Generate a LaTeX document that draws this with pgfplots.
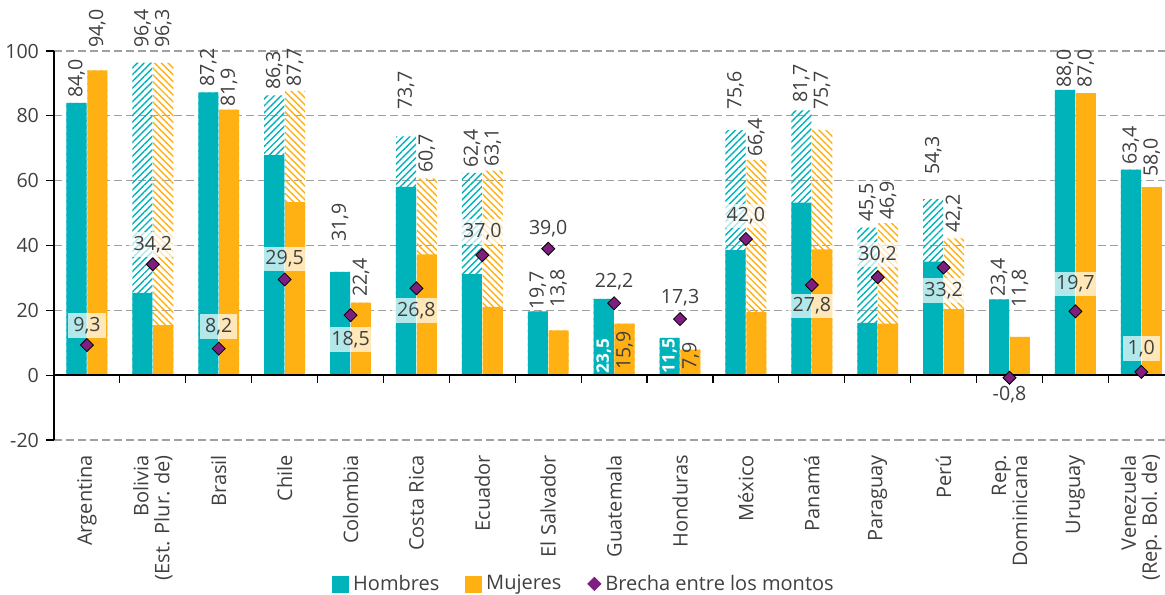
\documentclass[border=0pt]{standalone}
\usepackage{fontspec}
\setmainfont{Open Sans}
\usepackage{pgfplots}
\usepackage{pgfplotstable}
\pgfplotsset{compat=1.18}
\usetikzlibrary{patterns.meta}
\definecolor{teal}{HTML}{00B3BA}
\definecolor{orng}{HTML}{FFB012}
\definecolor{purp}{HTML}{7D1E80}
\definecolor{txt}{HTML}{404040}
\definecolor{gridc}{HTML}{A0A0A0}
\newcommand\num{\fontsize{9.8}{11}\selectfont}
\newcommand\numb{\fontsize{8.6}{10}\selectfont\bfseries}
\newcommand\lbl{\fontsize{10}{10.5}\selectfont}

\pgfplotstableread{
x htot hsol mtot msol br
0 84.0 84.0 94.0 94.0 9.3
1 96.4 25.4 96.3 15.4 34.2
2 87.2 87.2 81.9 81.9 8.2
3 86.3 67.9 87.7 53.4 29.5
4 31.9 31.9 22.4 22.4 18.5
5 73.7 58.1 60.7 37.3 26.8
6 62.4 31.2 63.1 21.1 37.0
7 19.7 19.7 13.8 13.8 39.0
8 23.5 23.5 15.9 15.9 22.2
9 11.5 11.5 7.9 7.9 17.3
10 75.6 38.6 66.4 19.5 42.0
11 81.7 53.2 75.7 38.8 27.8
12 45.5 16.1 46.9 15.9 30.2
13 54.3 35.0 42.2 20.4 33.2
14 23.4 23.4 11.8 11.8 -0.8
15 88.0 88.0 87.0 87.0 19.7
16 63.4 63.4 58.0 58.0 1.0
}\data

\pgfplotstableread{
x y t
0 85.5 84,0
1 100.9 96,4
2 88.9 87,2
3 88.0 86,3
4 41.0 31,9
5 81.8 73,7
6 63.9 62,4
7 20.1 19,7
10 81.8 75,6
11 84.0 81,7
12 47.2 45,5
13 61.7 54,3
14 24.1 23,4
15 88.6 88,0
16 64.8 63,4
}\hlab

\pgfplotstableread{
x y t
8 0.5 23,5
9 0.4 11,5
}\hlabw

\pgfplotstableread{
x y t
0 100.9 94,0
1 100.9 96,3
2 82.7 81,9
3 88.9 87,7
4 24.1 22,4
5 62.3 60,7
6 64.2 63,1
7 20.7 13,8
8 1.5 15,9
9 1.5 7,9
10 67.3 66,4
11 81.8 75,7
12 47.8 46,9
13 43.8 42,2
14 20.7 11,8
15 88.6 87,0
16 61.1 58,0
}\mlab

\pgfplotstableread{
x y t
0 15.3 9,3
1 40.4 34,2
2 15.1 8,2
3 35.8 29,5
4 11.1 18,5
5 20.0 26,8
6 44.4 37,0
7 45.1 39,0
8 28.7 22,2
9 23.8 17,3
10 49.1 42,0
11 21.3 27,8
12 37.3 30,2
13 26.1 33,2
14 -6.0 -0,8
15 28.1 19,7
16 8.2 1,0
}\blab

\begin{document}
\begin{tikzpicture}
\begin{axis}[
  width=555.5pt, height=194.5pt, scale only axis,
  xmin=-0.5, xmax=16.36, ymin=-20, ymax=100,
  clip=false,
  axis y line*=left, axis x line*=bottom,
  x axis line style={draw=none},
  y axis line style={draw=black, line width=0.7pt},
  xtick={0,...,16},
  xticklabels={Argentina,{Bolivia\\(Est. Plur. de)},Brasil,Chile,Colombia,Costa Rica,Ecuador,El Salvador,Guatemala,Honduras,México,Panamá,Paraguay,Perú,{Rep.\\Dominicana},Uruguay,{Venezuela\\(Rep. Bol. de)}},
  xtick style={draw=none},
  xticklabel style={rotate=90, anchor=east, align=right, font=\lbl, text=txt},
  ytick={-20,0,20,40,60,80,100},
  yticklabels={-20,0,20,40,60,80,100},
  ytick style={draw=black, line width=0.6pt},
  tick align=outside, major tick length=4pt,
  yticklabel style={font=\num, text=txt},
  ymajorgrids,
  grid style={dash pattern=on 4pt off 2pt, color=gridc, line width=0.6pt},
  legend columns=3,
  legend style={at={(0.478,-0.370)}, anchor=center, draw=none, fill=none,
    font=\lbl, text=txt,
    /tikz/every even column/.append style={column sep=11pt}},
]
% hatched totals
\addplot[ybar, bar width=0.305, bar shift=-0.158, draw=none,
  pattern={Lines[angle=45,distance=2.4pt,line width=0.7pt]}, pattern color=teal, forget plot]
  table[x=x,y=htot]{\data};
\addplot[ybar, bar width=0.305, bar shift=0.158, draw=none,
  pattern={Lines[angle=-45,distance=2.4pt,line width=0.7pt]}, pattern color=orng, forget plot]
  table[x=x,y=mtot]{\data};
% solid parts
\addplot[ybar, bar width=0.305, bar shift=-0.158, draw=none, fill=teal, forget plot]
  table[x=x,y=hsol]{\data};
\addplot[ybar, bar width=0.305, bar shift=0.158, draw=none, fill=orng, forget plot]
  table[x=x,y=msol]{\data};
% x axis line at zero with category boundary ticks
\draw[black, line width=0.7pt] (axis cs:-0.5,0) -- (axis cs:16.36,0);
\pgfplotsinvokeforeach{0.5,1.5,2.5,3.5,4.5,5.5,6.5,7.5,8.5,9.5,10.5,11.5,12.5,13.5,14.5,15.5}{
  \draw[black, line width=0.6pt] (axis cs:#1,0) -- ++(0pt,-4pt);
}
% bar value labels
\addplot[draw=none, mark=none, nodes near coords, point meta=explicit symbolic,
  nodes near coords style={rotate=90, anchor=west, inner sep=0pt, font=\num, text=txt}, forget plot]
  table[x expr=\thisrow{x}-0.158, y=y, meta=t]{\hlab};
\addplot[draw=none, mark=none, nodes near coords, point meta=explicit symbolic,
  nodes near coords style={rotate=90, anchor=west, inner sep=0pt, font=\numb, text=white}, forget plot]
  table[x expr=\thisrow{x}-0.158, y=y, meta=t]{\hlabw};
\addplot[draw=none, mark=none, nodes near coords, point meta=explicit symbolic,
  nodes near coords style={rotate=90, anchor=west, inner sep=0pt, font=\num, text=txt}, forget plot]
  table[x expr=\thisrow{x}+0.158, y=y, meta=t]{\mlab};
% brecha labels
\addplot[draw=none, mark=none, nodes near coords, point meta=explicit symbolic,
  nodes near coords style={anchor=center, fill=white, fill opacity=0.7, text opacity=1,
    inner xsep=2.5pt, inner ysep=2pt, font=\num, text=txt}, forget plot]
  table[x=x, y=y, meta=t]{\blab};
% brecha diamonds
\addplot[only marks, mark=square*, mark size=2.3pt, mark options={rotate=45, draw=none, fill=purp}, forget plot]
  table[x=x,y=br]{\data};
% legend
\addlegendimage{legend image code/.code={\fill[teal] (0pt,-4pt) rectangle (8pt,4pt);}}
\addlegendentry{Hombres}
\addlegendimage{legend image code/.code={\fill[orng] (0pt,-4pt) rectangle (8pt,4pt);}}
\addlegendentry{Mujeres}
\addlegendimage{legend image code/.code={\fill[purp] (0pt,0pt) -- (3.3pt,3.3pt) -- (6.6pt,0pt) -- (3.3pt,-3.3pt) -- cycle;}}
\addlegendentry{Brecha entre los montos}
\end{axis}
\pgfresetboundingbox
\path ([xshift=-27pt,yshift=-77pt]current axis.south west) rectangle ([yshift=25.5pt]current axis.north east);
\end{tikzpicture}
\end{document}
